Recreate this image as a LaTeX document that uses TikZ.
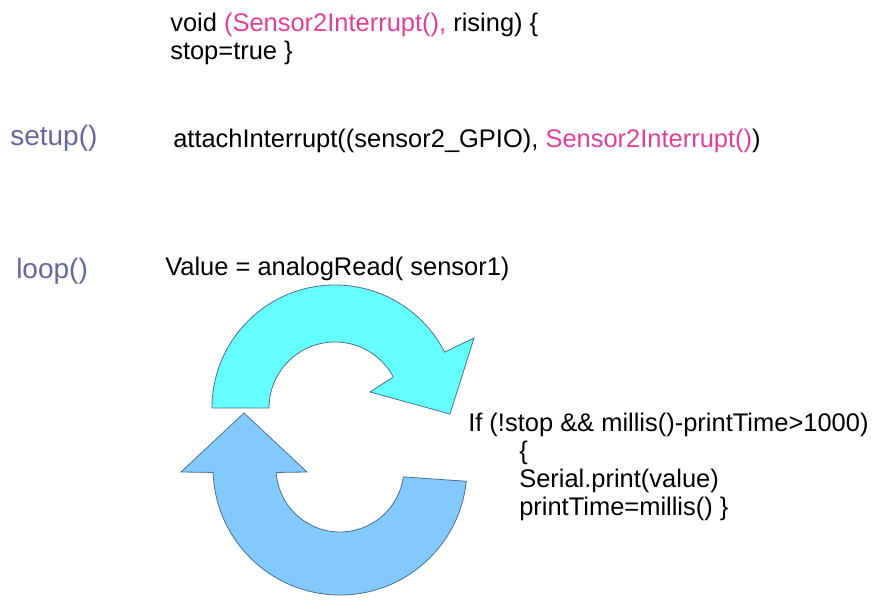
\documentclass[tikz,border=0pt]{standalone}
\usepackage{fontspec}
\setmainfont{Liberation Sans}
\definecolor{isrpink}{HTML}{E0409A}
\definecolor{fnlabel}{HTML}{666699}
\definecolor{loopcyan}{HTML}{66FFFF}
\definecolor{loopblue}{HTML}{83CAFF}
\definecolor{arrowedge}{HTML}{4A6F8F}
\begin{document}
\begin{tikzpicture}[x=0.75pt,y=0.75pt,every node/.style={inner sep=0pt,anchor=base west,font=\fontsize{19.1}{22}\selectfont},
  fn/.style={text=fnlabel,font=\fontsize{21}{25}\selectfont},loopshape/.style={draw=arrowedge,line width=0.6pt,line join=miter}]
\useasboundingbox (0,0) rectangle (878,606);
% interrupt handler
\node (isr) at (170,574) {void \textcolor{isrpink}{(Sensor2Interrupt(),} rising) \{}; \node (stopln) at (170,546) {stop=true \}};
% setup
\node[fn] (setup) at (10,460) {setup()}; \node (attach) at (173,458) {attachInterrupt((sensor2\_GPIO), \textcolor{isrpink}{Sensor2Interrupt()})};
% loop
\node[fn] (loop) at (16,327) {loop()}; \node (readln) at (165,330) {Value = analogRead( sensor1)};
\coordinate (cA) at (335,198); \coordinate (cB) at (340,138);
\draw[loopshape,fill=loopcyan] ([shift={(180:123)}]cA) arc[start angle=180,end angle=27,radius=123] -- (474,268) -- (450,192) -- (370,214) -- ([shift={(28:66)}]cA) arc[start angle=28,end angle=180,radius=66] -- cycle;
\draw[loopshape,fill=loopblue] ([shift={(-6:127)}]cB) arc[start angle=-6,end angle=-178,radius=127] -- (181,134) -- (244,193) -- (307,134) -- ([shift={(-176:64)}]cB) arc[start angle=-176,end angle=-8,radius=64] -- cycle;
\node (ifln) at (468,174) {If (!stop \&\& millis()-printTime>1000)}; \node (brace) at (519,146) {\{};
\node (println) at (519,118) {Serial.print(value)}; \node (timeln) at (519,90) {printTime=millis() \}};
\end{tikzpicture}
\end{document}
